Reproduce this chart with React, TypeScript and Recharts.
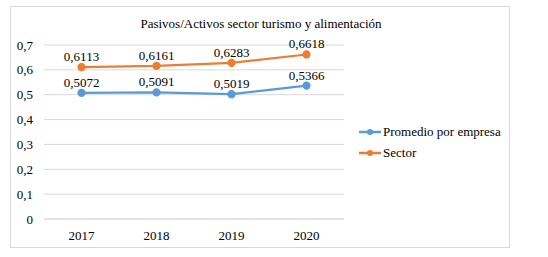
import React from "react";
import { LineChart, Line, XAxis, YAxis, CartesianGrid, LabelList } from "recharts";

const years = ["2017", "2018", "2019", "2020"];
const promedio = [0.5072, 0.5091, 0.5019, 0.5366];
const sector = [0.6113, 0.6161, 0.6283, 0.6618];
const yTicks = [0, 0.1, 0.2, 0.3, 0.4, 0.5, 0.6, 0.7];
const seriesNames = ["Promedio por empresa", "Sector"];

const data = years.map((y, i) => ({ year: y, promedio: promedio[i], sector: sector[i] }));

const FONT = "'Liberation Serif', 'Times New Roman', serif";
const BLUE = "#5B9BD5";
const ORANGE = "#ED7D31";

const fmtTick = (v: number) => (v === 0 ? "0" : v.toFixed(1).replace(".", ","));
const fmtLabel = (v: any) => Number(v).toFixed(4).replace(".", ",");

const LegendBox = () => {
  const items = [
    { name: seriesNames[0], color: BLUE },
    { name: seriesNames[1], color: ORANGE },
  ];
  return (
    <div style={{ position: "absolute", left: 359, top: 121, fontFamily: FONT, fontSize: 13, color: "#000" }}>
      {items.map((it) => (
        <div key={it.name} style={{ display: "flex", alignItems: "center", height: 21 }}>
          <svg width={22} height={10} style={{ marginRight: 2 }}>
            <line x1={0} y1={5} x2={22} y2={5} stroke={it.color} strokeWidth={2.5} />
            <circle cx={11} cy={5} r={3} fill={it.color} />
          </svg>
          <span>{it.name}</span>
        </div>
      ))}
    </div>
  );
};

export default function App() {
  return (
    <div
      style={{
        position: "absolute",
        left: 0,
        top: 0,
        width: 548,
        height: 257,
        background: "#fff",
        fontFamily: FONT,
      }}
    >
      <div
        style={{
          position: "absolute",
          left: 10,
          top: 6,
          width: 500,
          height: 242,
          border: "1px solid #d9d9d9",
          boxSizing: "border-box",
        }}
      />
      <div
        style={{
          position: "absolute",
          left: 0,
          width: 522,
          top: 16,
          textAlign: "center",
          fontFamily: FONT,
          fontSize: 13,
          color: "#000",
        }}
      >
        Pasivos/Activos sector turismo y alimentación
      </div>
      <div style={{ position: "absolute", left: 0, top: 0 }}>
        <LineChart
          width={548}
          height={257}
          data={data}
          margin={{ top: 45, right: 204, bottom: 0, left: 0 }}
          style={{ fontFamily: FONT }}
        >
          <CartesianGrid vertical={false} stroke="#d9d9d9" />
          <XAxis
            dataKey="year"
            axisLine={{ stroke: "#d9d9d9" }}
            tickLine={false}
            height={38}
            tickMargin={6}
            padding={{ left: 37.5, right: 37.5 }}
            tick={{ fill: "#000", fontFamily: FONT, fontSize: 13 }}
          />
          <YAxis
            domain={[0, 0.7]}
            ticks={yTicks}
            tickFormatter={fmtTick}
            axisLine={false}
            tickLine={false}
            width={44}
            tickMargin={5}
            interval={0}
            tick={{ fill: "#000", fontFamily: FONT, fontSize: 13 }}
          />
          <Line
            dataKey="promedio"
            name={seriesNames[0]}
            stroke={BLUE}
            strokeWidth={2.25}
            dot={{ r: 3, fill: BLUE, stroke: BLUE }}
            isAnimationActive={false}
          >
            <LabelList
              dataKey="promedio"
              position="top"
              offset={6}
              formatter={fmtLabel}
              style={{ fill: "#000", fontFamily: FONT, fontSize: 13 }}
            />
          </Line>
          <Line
            dataKey="sector"
            name={seriesNames[1]}
            stroke={ORANGE}
            strokeWidth={2.25}
            dot={{ r: 3, fill: ORANGE, stroke: ORANGE }}
            isAnimationActive={false}
          >
            <LabelList
              dataKey="sector"
              position="top"
              offset={6}
              formatter={fmtLabel}
              style={{ fill: "#000", fontFamily: FONT, fontSize: 13 }}
            />
          </Line>
        </LineChart>
      </div>
      <LegendBox />
    </div>
  );
}
